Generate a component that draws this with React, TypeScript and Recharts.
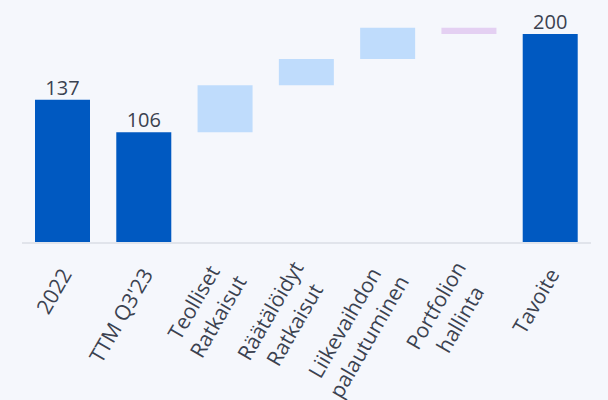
import React from "react"
import { BarChart, Bar, XAxis, YAxis, Cell, LabelList } from "recharts"

const categories = ["2022", "TTM Q3'23", "Teolliset Ratkaisut", "Räätälöidyt Ratkaisut", "Liikevaihdon palautuminen", "Portfolion hallinta", "Tavoite"]
const tickLines = [["2022"], ["TTM Q3'23"], ["Teolliset", "Ratkaisut"], ["Räätälöidyt", "Ratkaisut"], ["Liikevaihdon", "palautuminen"], ["Portfolion", "hallinta"], ["Tavoite"]]
const lows = [0, 0, 106, 151, 176, 200, 0]
const highs = [137, 106, 151, 176, 206, 206, 200]
const kinds = ["total", "total", "up", "up", "up", "down", "total"]

const colors: Record<string, string> = { total: "#0059c1", up: "#bfdcfc", down: "#e4d0f2" }
const font = "'Open Sans', sans-serif"
const textColor = "#3b4250"

const data = categories.map((name, i) => ({ name, range: [lows[i], highs[i]], kind: kinds[i], total: kinds[i] === "total" ? highs[i] : null }))

let ctx: CanvasRenderingContext2D | null = null
function measure(s: string, size: number) {
  if (!ctx) ctx = document.createElement("canvas").getContext("2d")
  if (!ctx) return s.length * size * 0.55
  ctx.font = `${size}px 'Open Sans'`
  return ctx.measureText(s).width
}

function AxisTick(props: any) {
  const { x, payload, index } = props
  const lines = tickLines[payload.index ?? index] || [String(payload.value)]
  const size = 21
  const lh = 28
  const w = Math.max(...lines.map((l) => measure(l, size)))
  const cxLine = -22 - w / 2
  const first = 17 + 7 - ((lines.length - 1) * lh) / 2
  return (
    <g transform={`translate(${x},243) rotate(-60)`}>
      <text textAnchor="middle" fill={textColor} fontSize={size} fontFamily={font}>
        {lines.map((l, i) => (
          <tspan key={i} x={cxLine} y={first + i * lh}>{l}</tspan>
        ))}
      </text>
    </g>
  )
}

export default function App() {
  return (
    <div style={{ position: "absolute", left: 0, top: 0, width: 608, height: 400, background: "#f5f7fc" }}>
      <BarChart width={608} height={400} data={data} margin={{ top: 13, right: 17, left: 22, bottom: 0 }}>
        <XAxis dataKey="name" height={157} interval={0} tickLine={false} stroke="#e1e4eb" strokeWidth={2} tick={<AxisTick />} />
        <YAxis hide domain={[0, 220]} />
        <Bar dataKey="range" barSize={55} isAnimationActive={false}>
          {data.map((d, i) => (
            <Cell key={i} fill={colors[d.kind]} />
          ))}
          <LabelList dataKey="total" position="top" offset={5} fill={textColor} fontSize={20} fontFamily={font} />
        </Bar>
      </BarChart>
    </div>
  )
}
